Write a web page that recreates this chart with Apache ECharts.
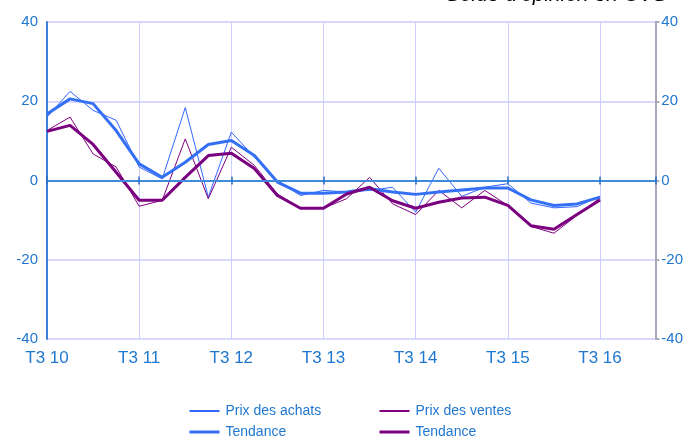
<!DOCTYPE html>
<html>
<head>
<meta charset="utf-8">
<script src="https://cdn.jsdelivr.net/npm/echarts@6/dist/echarts.min.js"></script>
<style>
  html, body { margin: 0; padding: 0; background: #fff; }
  #chart { width: 686px; height: 437px; }
</style>
</head>
<body>
<div id="chart"></div>
<script>
// tick labels (one per year, every 4 quarters from T3 10)
const xLabels = ['T3 10', 'T3 11', 'T3 12', 'T3 13', 'T3 14', 'T3 15', 'T3 16'];

// quarterly values, T3 10 .. T3 16
const prixAchats = [16.0, 22.5, 17.7, 15.2, 3.4, 0.4, 18.4, -4.2, 12.2, 5.9, 0.0, -3.8, -2.5,
  -2.9, -2.5, -1.7, -8.0, 3.1, -4.0, -1.7, -0.8, -5.7, -6.9, -6.6, -4.0];
const tendanceAchats = [16.8, 20.6, 19.4, 12.6, 4.2, 0.8, 4.6, 9.1, 10.1, 6.3, -0.4, -3.2, -3.2,
  -2.9, -2.1, -2.9, -3.5, -2.9, -2.4, -1.9, -1.9, -4.9, -6.3, -5.9, -4.2];
const prixVentes = [12.6, 16.0, 6.7, 3.4, -6.5, -5.0, 10.5, -4.6, 8.4, 3.8, -3.4, -7.0, -7.0,
  -4.6, 0.8, -5.9, -8.6, -2.5, -6.9, -2.5, -6.3, -11.6, -13.3, -8.8, -4.4];
const tendanceVentes = [12.4, 13.9, 9.1, 2.1, -5.0, -5.0, 0.8, 6.3, 6.9, 3.0, -3.8, -7.0, -7.0,
  -3.4, -1.7, -5.1, -7.0, -5.5, -4.4, -4.2, -6.3, -11.4, -12.3, -8.6, -4.9];

const labelBlue = '#1f77d0';
const gridColor = '#ccccff';
const fontFamily = '"Liberation Sans", Arial, sans-serif';

const toPoints = (arr) => arr.map((v, i) => [i, v]);

const chart = echarts.init(document.getElementById('chart'), null, { renderer: 'canvas' });

const xBase = {
  type: 'value',
  min: 0,
  max: 26.4,
  interval: 4,
  gridIndex: 0,
};

// legend column, one per price
const legendCol = (left, names) => ({
  orient: 'vertical',
  left: left,
  top: 404,
  height: 60,
  padding: 0,
  itemWidth: 30,
  itemHeight: 14,
  itemGap: 7,
  itemStyle: { opacity: 0 },
  textStyle: { color: labelBlue, fontSize: 14, lineHeight: 14, fontFamily: fontFamily, padding: [0, 0, 0, 1] },
  data: [names[0], { name: names[1], lineStyle: { width: 3 } }],
  formatter: (name) => (name.indexOf('Tendance') === 0 ? 'Tendance' : name),
});

const option = {
  animation: false,
  backgroundColor: '#fff',
  grid: { left: 47, right: 30, top: 22, bottom: 98, containLabel: false },
  graphic: [
    {
      type: 'text',
      right: 19,
      top: -15,
      style: {
        text: "Solde d'opinion en CVS",
        fill: '#000',
        font: 'italic 21px ' + fontFamily,
      },
    },
  ],
  xAxis: [
    Object.assign({}, xBase, {
      position: 'bottom',
      axisLine: { show: false, onZero: false },
      axisTick: { show: false },
      splitLine: { show: true, lineStyle: { color: gridColor, width: 1 } },
      axisLabel: {
        color: labelBlue,
        fontSize: 17,
        fontFamily: fontFamily,
        margin: 11,
        showMaxLabel: false,
        formatter: (v) => xLabels[Math.round(v / 4)] || '',
      },
    }),
    // zero line with year ticks (downward part)
    Object.assign({}, xBase, {
      position: 'bottom',
      z: 6,
      axisLine: { show: true, onZero: true, lineStyle: { color: '#3d8bd9', width: 2 } },
      axisTick: { show: true, inside: false, length: 4, lineStyle: { color: '#2a6fc0', width: 1.5 } },
      axisLabel: { show: false },
      splitLine: { show: false },
    }),
    // upward part of the ticks
    Object.assign({}, xBase, {
      position: 'bottom',
      z: 6,
      axisLine: { show: false, onZero: true },
      axisTick: { show: true, inside: true, length: 4, lineStyle: { color: '#2a6fc0', width: 1.5 } },
      axisLabel: { show: false },
      splitLine: { show: false },
    }),
  ],
  yAxis: [
    {
      type: 'value',
      min: -40,
      max: 40,
      interval: 20,
      position: 'left',
      axisLine: { show: true, onZero: false, lineStyle: { color: '#3a7fd8', width: 2 } },
      axisTick: { show: false },
      splitLine: { show: true, lineStyle: { color: gridColor, width: 1.5 } },
      axisLabel: { color: labelBlue, fontSize: 15, fontFamily: fontFamily, margin: 9 },
    },
    {
      type: 'value',
      min: -40,
      max: 40,
      interval: 20,
      position: 'right',
      axisLine: { show: true, onZero: false, lineStyle: { color: '#a8a8b8', width: 2 } },
      axisTick: { show: true, length: 4, lineStyle: { color: '#a8a8b8', width: 2 } },
      splitLine: { show: false },
      axisLabel: { color: labelBlue, fontSize: 15, fontFamily: fontFamily, margin: 6 },
    },
  ],
  legend: [
    legendCol(188, ['Prix des achats', 'Tendance achats']),
    legendCol(378, ['Prix des ventes', 'Tendance ventes']),
  ],
  series: [
    {
      name: 'Prix des achats',
      type: 'line',
      data: toPoints(prixAchats),
      symbol: 'none',
      z: 3,
      lineStyle: { color: '#3366ff', width: 1 },
      itemStyle: { color: '#3366ff' },
    },
    {
      name: 'Tendance achats',
      type: 'line',
      data: toPoints(tendanceAchats),
      symbol: 'none',
      z: 4,
      lineStyle: { color: '#3470f5', width: 3 },
      itemStyle: { color: '#3470f5' },
    },
    {
      name: 'Prix des ventes',
      type: 'line',
      data: toPoints(prixVentes),
      symbol: 'none',
      z: 3,
      lineStyle: { color: '#800080', width: 1 },
      itemStyle: { color: '#800080' },
    },
    {
      name: 'Tendance ventes',
      type: 'line',
      data: toPoints(tendanceVentes),
      symbol: 'none',
      z: 4,
      lineStyle: { color: '#7a0080', width: 3 },
      itemStyle: { color: '#7a0080' },
    },
  ],
};

chart.setOption(option);
</script>
</body>
</html>
